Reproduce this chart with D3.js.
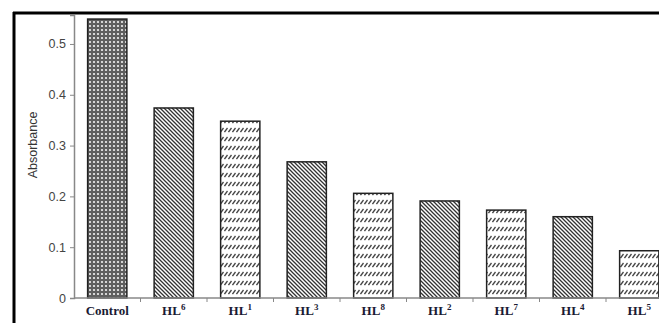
<!DOCTYPE html>
<html>
<head>
<meta charset="utf-8">
<script src="https://cdn.jsdelivr.net/npm/d3@7"></script>
<style>
  body { margin: 0; background: #fff; }
</style>
</head>
<body>
<div id="chart"></div>
<script>
const categories = ["Control", "HL6", "HL1", "HL3", "HL8", "HL2", "HL7", "HL4", "HL5"];
const absorbance = [0.549, 0.374, 0.348, 0.268, 0.206, 0.191, 0.173, 0.160, 0.093];
const fills = ["dots", "diag", "slash", "diag", "slash", "diag", "slash", "diag", "slash"];
const yTicks = [0, 0.1, 0.2, 0.3, 0.4, 0.5];

const width = 659, height = 323;
const x0 = 74, step = 66.5;

const svg = d3.select("#chart")
    .append("svg")
    .attr("width", width)
    .attr("height", height);

// patterns
const defs = svg.append("defs");

const dots = defs.append("pattern")
    .attr("id", "dots")
    .attr("patternUnits", "userSpaceOnUse")
    .attr("width", 4).attr("height", 4);
dots.append("rect").attr("width", 4).attr("height", 4).attr("fill", "#5e5e5e");
dots.append("circle").attr("cx", 2).attr("cy", 2).attr("r", 1.1).attr("fill", "#f2f2f2");

const diag = defs.append("pattern")
    .attr("id", "diag")
    .attr("patternUnits", "userSpaceOnUse")
    .attr("width", 4).attr("height", 4);
diag.append("rect").attr("width", 4).attr("height", 4).attr("fill", "#fff");
diag.append("path")
    .attr("d", "M-1,-1L5,5M-1,3L1,5M3,-1L5,1")
    .attr("stroke", "#333")
    .attr("stroke-width", 1.3);

const slash = defs.append("pattern")
    .attr("id", "slash")
    .attr("patternUnits", "userSpaceOnUse")
    .attr("width", 4).attr("height", 9);
slash.append("rect").attr("width", 4).attr("height", 9).attr("fill", "#fff");
slash.append("path")
    .attr("d", "M0.5,6L3.5,2")
    .attr("stroke", "#444")
    .attr("stroke-width", 1.3);

const x = d3.scaleBand()
    .domain(categories)
    .range([x0, x0 + step * categories.length])
    .paddingInner(0.41)
    .paddingOuter(0.205);

const y = d3.scaleLinear()
    .domain([0, 0.557])
    .range([298, 15]);

// frame
svg.append("line")
    .attr("x1", 14).attr("y1", 12).attr("x2", 14).attr("y2", height)
    .attr("stroke", "#000").attr("stroke-width", 3);
svg.append("line")
    .attr("x1", 13).attr("y1", 13).attr("x2", width).attr("y2", 13)
    .attr("stroke", "#000").attr("stroke-width", 3);

// y axis
const yAxis = svg.append("g")
    .attr("transform", `translate(${x0},0)`)
    .call(d3.axisLeft(y).tickValues(yTicks).tickSize(4).tickPadding(4)
        .tickFormat(d => d === 0 ? "0" : d3.format(".1f")(d)));
yAxis.select(".domain").attr("stroke", "#888").attr("stroke-width", 1.5);
yAxis.selectAll(".tick line").attr("stroke", "#888");
yAxis.selectAll(".tick text")
    .attr("fill", "#444")
    .attr("font-family", "Liberation Sans, Arial, sans-serif")
    .attr("font-size", "12.5px");

svg.append("text")
    .attr("transform", "translate(37,145) rotate(-90)")
    .attr("text-anchor", "middle")
    .attr("fill", "#333")
    .attr("font-family", "Liberation Sans, Arial, sans-serif")
    .attr("font-size", "12.5px")
    .text("Absorbance");

// bars
svg.selectAll(".bar")
    .data(categories)
    .enter()
    .append("rect")
    .attr("class", "bar")
    .attr("x", d => x(d))
    .attr("y", (d, i) => y(absorbance[i]))
    .attr("width", x.bandwidth())
    .attr("height", (d, i) => y(0) - y(absorbance[i]))
    .attr("fill", (d, i) => `url(#${fills[i]})`)
    .attr("stroke", "#222")
    .attr("stroke-width", 1.5);

// x axis
svg.append("line")
    .attr("x1", x0).attr("y1", y(0)).attr("x2", width).attr("y2", y(0))
    .attr("stroke", "#888").attr("stroke-width", 1.5);
svg.selectAll(".xtick")
    .data(categories)
    .enter()
    .append("line")
    .attr("x1", d => x(d) + x.bandwidth() + x.step() * x.paddingInner() / 2)
    .attr("x2", d => x(d) + x.bandwidth() + x.step() * x.paddingInner() / 2)
    .attr("y1", y(0)).attr("y2", y(0) + 4)
    .attr("stroke", "#888");

const labels = svg.selectAll(".xlabel")
    .data(categories)
    .enter()
    .append("text")
    .attr("x", d => x(d) + x.bandwidth() / 2)
    .attr("y", 315)
    .attr("text-anchor", "middle")
    .attr("fill", "#1a1a33")
    .attr("font-family", "Liberation Serif, Times New Roman, serif")
    .attr("font-weight", "bold")
    .attr("font-size", "13px");

labels.each(function(d) {
    const t = d3.select(this);
    if (d.startsWith("HL")) {
        t.append("tspan").text("HL");
        t.append("tspan").attr("dy", -5).attr("font-size", "9px").text(d.slice(2));
    } else {
        t.text(d);
    }
});
</script>
</body>
</html>
